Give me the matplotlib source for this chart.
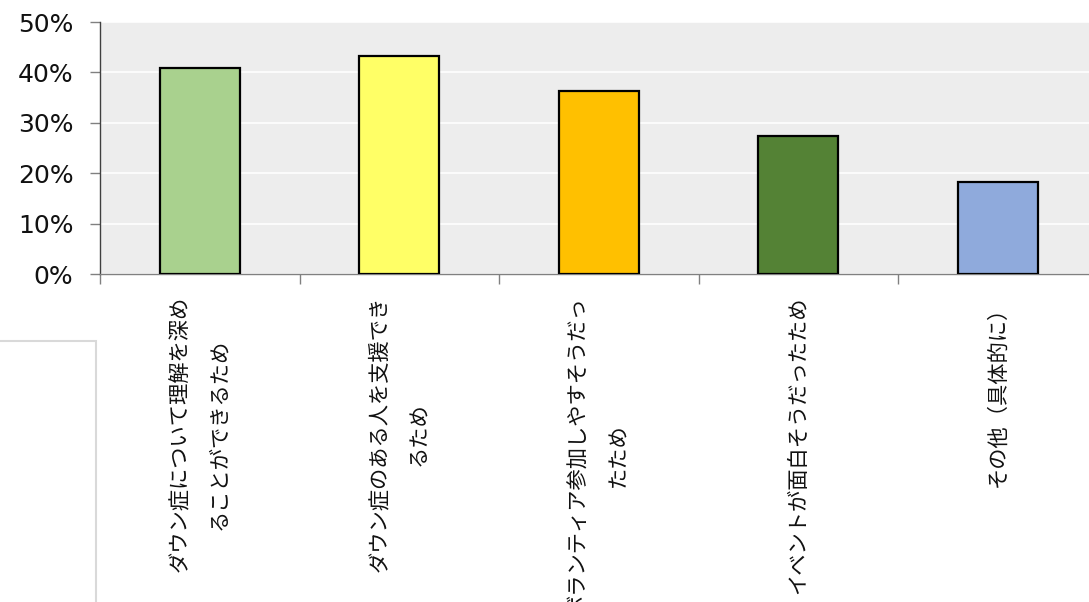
import matplotlib
matplotlib.use("Agg")
import matplotlib.pyplot as plt
from matplotlib.patches import Rectangle
from matplotlib.ticker import FixedLocator, PercentFormatter

categories = [
    "ダウン症について理解を深め\nることができるため",
    "ダウン症のある人を支援でき\nるため",
    "ボランティア参加しやすそうだっ\nたため",
    "イベントが面白そうだったため",
    "その他（具体的に）",
]
values = [40.9, 43.3, 36.4, 27.3, 18.2]
colors = ["#A9D18E", "#FFFF66", "#FFC000", "#548235", "#8FAADC"]
yticks = [0, 10, 20, 30, 40, 50]

W, H = 1089, 602
fig = plt.figure(figsize=(W / 100, H / 100), dpi=100)
fig.patch.set_facecolor("white")

left, right, top, bottom = 100, 1097.5, 22, 274
ax = fig.add_axes([left / W, 1 - bottom / H, (right - left) / W, (bottom - top) / H])
ax.set_facecolor("#EDEDED")

x = list(range(len(categories)))
ax.bar(x, values, width=0.4, color=colors, edgecolor="black", linewidth=1.6, zorder=3)

ax.set_xlim(-0.5, len(categories) - 0.5)
ax.set_ylim(0, 50)
ax.yaxis.set_major_locator(FixedLocator(yticks))
ax.yaxis.set_major_formatter(PercentFormatter(decimals=0))
ax.grid(axis="y", color="white", linewidth=1.2, zorder=1)
ax.set_axisbelow(True)

for s in ["top", "right"]:
    ax.spines[s].set_visible(False)
ax.spines["left"].set_color("#404040")
ax.spines["left"].set_linewidth(1.0)
ax.spines["bottom"].set_color("#808080")
ax.spines["bottom"].set_linewidth(1.0)

ax.tick_params(axis="y", direction="out", length=7.2, width=1, color="#808080",
               labelsize=18, labelcolor="#111111", pad=12)
for t in ax.get_yticklabels():
    t.set_family(["DejaVu Sans"])

ax.set_xticks(x)
ax.set_xticks([i - 0.5 for i in range(len(categories) + 1)], minor=True)
ax.tick_params(axis="x", which="major", length=0, pad=16)
ax.tick_params(axis="x", which="minor", direction="out", length=7, width=1, color="#808080")
ax.set_xticklabels(categories, rotation=90, ha="center", va="top",
                   fontsize=15.3, family=["Noto Sans CJK JP", "DejaVu Sans"],
                   color="#111111", linespacing=2.05, multialignment="center")

# partially visible empty frame at the lower left
fig.patches.append(Rectangle((-20 / W, -20 / H), (96 + 20) / W, (H - 341 + 20) / H,
                             transform=fig.transFigure, fill=False,
                             edgecolor="#D9D9D9", linewidth=1.5))

fig.savefig("out.png", dpi=100, facecolor="white")
